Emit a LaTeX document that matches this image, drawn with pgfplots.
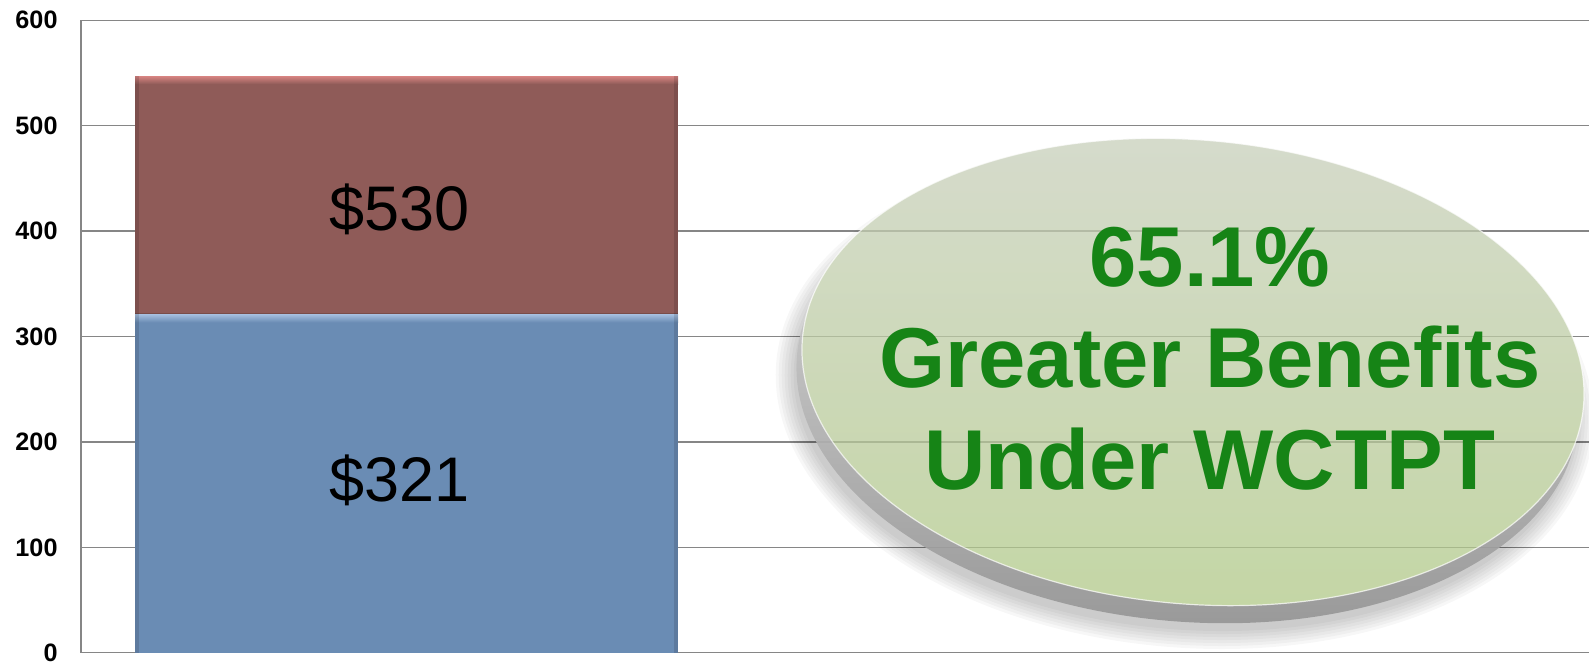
\documentclass[border=0pt]{standalone}
\usepackage{fontspec}
\setmainfont{Liberation Sans}
\usepackage{pgfplots}
\pgfplotsset{compat=1.18}
\definecolor{barblue}{RGB}{106,140,180}
\definecolor{barred}{RGB}{143,91,88}
\definecolor{bluehi}{RGB}{165,190,222}
\definecolor{redhi}{RGB}{215,132,130}
\definecolor{gridgray}{RGB}{134,134,134}
\definecolor{txtgreen}{RGB}{22,132,22}
\definecolor{facetop}{RGB}{200,207,188}
\definecolor{facemid}{RGB}{178,188,158}
\definecolor{facebot}{RGB}{176,200,135}
\definecolor{rimtop}{RGB}{225,225,225}
\definecolor{rimbot}{RGB}{150,150,150}
\begin{document}
\begin{tikzpicture}[x=1pt,y=1pt]
\useasboundingbox (0,0) rectangle (794.5,332);
\begin{axis}[
  at={(40.5pt,5.6pt)}, anchor=south west,
  scale only axis, width=754pt, height=316.3pt,
  ybar stacked, bar width=271.5pt,
  xmin=0, xmax=1508, ymin=0, ymax=600,
  ytick={0,100,...,600}, xtick=\empty,
  ymajorgrids, grid style={gridgray, line width=0.65pt},
  axis x line*=bottom, axis y line*=left,
  axis line style={gridgray, line width=0.65pt, -},
  major tick length=0pt,
  yticklabel style={font=\fontsize{12.6}{14}\selectfont\bfseries, xshift=-8.2pt},
  /pgf/number format/assume math mode=true,
  clip=false,
]
\addplot[fill=barblue, draw=none] coordinates {(325.5,321)};
\addplot[fill=barred, draw=none] coordinates {(325.5,226)};
\coordinate (lab1) at (axis cs:325.5,164);
\coordinate (lab2) at (axis cs:325.5,421);
\coordinate (redtl) at (axis cs:54,547);
\coordinate (redtr) at (axis cs:597,547);
\coordinate (bluetl) at (axis cs:54,321);
\coordinate (bluetr) at (axis cs:597,321);
\coordinate (bl) at (axis cs:54,0);
\coordinate (br) at (axis cs:597,0);
\end{axis}
% subtle bevel on the bar edges
\shade[top color=redhi, bottom color=barred] (redtl) rectangle ([yshift=-4pt]redtr);
\shade[top color=bluehi, bottom color=barblue] (bluetl) rectangle ([yshift=-4pt]bluetr);
\fill[black, opacity=0.12] (bl) rectangle ([xshift=2pt]redtl);
\fill[black, opacity=0.12] ([xshift=-2pt]br) rectangle (redtr);
\fill[black, opacity=0.15] ([yshift=0.9pt]bluetl) rectangle (bluetr);
\node[font=\fontsize{31.5}{36}\selectfont, text=black, xshift=-3.5pt] at (lab1) {\$321};
\node[font=\fontsize{31.5}{36}\selectfont, text=black, xshift=-3.5pt] at (lab2) {\$530};
\def\cx{596.5}
\def\cy{146}
\begin{scope}[rotate around={-5:(\cx,\cy)}]
  \begin{scope}[even odd rule]
    \clip (-500,-500) rectangle (1500,900) (\cx,\cy) ellipse [x radius=196, y radius=116];
    \foreach \k in {0,1.5,...,9} {
      \fill[black, opacity=0.03] (\cx-3,\cy-13) ellipse [x radius=196+\k, y radius=116+\k];
    }
    \shade[top color=rimtop, bottom color=rimbot, opacity=0.92] (\cx-2,\cy-9) ellipse [x radius=196, y radius=116];
  \end{scope}
  \shade[top color=facetop, middle color=facemid, bottom color=facebot, opacity=0.75] (\cx,\cy) ellipse [x radius=196, y radius=116];
  \draw[white, opacity=0.7, line width=0.6pt] (\cx,\cy) ellipse [x radius=196, y radius=116];
\end{scope}
\node[anchor=base, font=\fontsize{42.5}{50}\selectfont\bfseries, text=txtgreen, inner sep=0pt] at (605,188.5) {65.1\%};
\node[anchor=base, font=\fontsize{42.5}{50}\selectfont\bfseries, text=txtgreen, inner sep=0pt] at (605,138) {Greater Benefits};
\node[anchor=base, font=\fontsize{42.5}{50}\selectfont\bfseries, text=txtgreen, inner sep=0pt] at (605,87) {Under WCTPT};
\end{tikzpicture}
\end{document}
